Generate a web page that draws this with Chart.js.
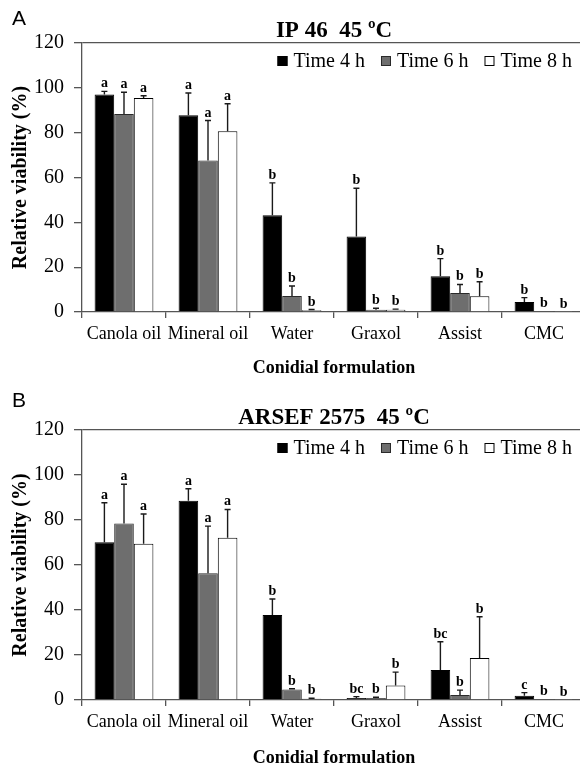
<!DOCTYPE html>
<html><head><meta charset="utf-8">
<script src="https://cdn.jsdelivr.net/npm/chart.js@4.4.1/dist/chart.umd.min.js"></script>
<style>
html,body{margin:0;padding:0;background:#fff;}
#wrap{width:580px;height:769px;overflow:hidden;position:relative;}
canvas{display:block;}
</style></head><body>
<div id="wrap">
<canvas id="cA" width="586" height="385"></canvas>
<canvas id="cB" width="586" height="384"></canvas>
</div>
<script>
// ---- data ----
const categories = ['Canola oil', 'Mineral oil', 'Water', 'Graxol', 'Assist', 'CMC'];
const seriesNames = ['Time 4 h', 'Time 6 h', 'Time 8 h'];
const yTicks = [0, 20, 40, 60, 80, 100, 120];

// Panel A: IP 46 45 ºC
const ipT4 = [97.0, 87.8, 43.2, 33.7, 15.9, 4.5];
const ipT4sd = [1.4, 9.9, 14.4, 21.5, 7.9, 1.9];
const ipT6 = [88.3, 67.6, 7.1, 1.0, 8.5, 0.5];
const ipT6sd = [9.7, 17.8, 4.5, 0.7, 3.8, 0];
const ipT8 = [95.5, 80.6, 0.8, 1.0, 7.0, 0.2];
const ipT8sd = [1.0, 12.3, 0.3, 0.3, 6.5, 0];
const ipT4let = ['a', 'a', 'b', 'b', 'b', 'b'];
const ipT6let = ['a', 'a', 'b', 'b', 'b', 'b'];
const ipT8let = ['a', 'a', 'b', 'b', 'b', 'b'];

// Panel B: ARSEF 2575 45 ºC
const arT4 = [70.1, 88.6, 37.8, 0.9, 13.3, 1.9];
const arT4sd = [17.6, 5.3, 7.1, 0.6, 12.6, 1.4];
const arT6 = [78.4, 56.3, 4.7, 0.9, 2.2, 0.3];
const arT6sd = [17.5, 21.0, 0.3, 0.3, 2.2, 0];
const arT8 = [69.5, 72.1, 0.6, 6.4, 18.7, 0.2];
const arT8sd = [13.2, 12.6, 0.2, 6.0, 18.3, 0];
const arT4let = ['a', 'a', 'b', 'bc', 'bc', 'c'];
const arT6let = ['a', 'a', 'b', 'b', 'b', 'b'];
const arT8let = ['a', 'a', 'b', 'b', 'b', 'b'];

// ---- styling ----
const SERIF = '"Liberation Serif", "Times New Roman", serif';
Chart.defaults.font.family = SERIF;
Chart.defaults.color = '#000';
const fills = ['#000000', '#6e6e6e', '#ffffff'];
const borders = ['#000000', '#2a2a2a', '#000000'];
const AXIS = '#555555';

const errorBarPlugin = {
  id: 'errbars',
  afterDatasetsDraw(chart) {
    const ctx = chart.ctx, ys = chart.scales.y;
    chart.data.datasets.forEach((ds, i) => {
      const meta = chart.getDatasetMeta(i);
      meta.data.forEach((bar, j) => {
        const v = ds.data[j], e = ds.errors[j];
        const top = ys.getPixelForValue(v + e);
        ctx.save();
        ctx.strokeStyle = '#1a1a1a';
        ctx.lineWidth = 1.4;
        if (e > 0) {
          ctx.beginPath();
          ctx.moveTo(bar.x, bar.y);
          ctx.lineTo(bar.x, top);
          ctx.moveTo(bar.x - 3, top);
          ctx.lineTo(bar.x + 3, top);
          ctx.stroke();
        }
        ctx.fillStyle = '#000';
        ctx.font = 'bold 14px ' + SERIF;
        ctx.textAlign = 'center';
        ctx.textBaseline = 'alphabetic';
        ctx.fillText(ds.letters[j], bar.x, top - 4);
        ctx.restore();
      });
    });
  }
};

// legend drawn inside the plot area, right aligned
const insideLegendPlugin = {
  id: 'insideLegend',
  afterDraw(chart, args, opts) {
    const ctx = chart.ctx, area = chart.chartArea;
    ctx.save();
    ctx.font = '20px ' + SERIF;
    const box = 10, gap = 6, itemGap = 16;
    const items = chart.data.datasets.map(ds => ({
      text: ds.label, fill: ds.backgroundColor, stroke: ds.borderColor,
      w: ctx.measureText(ds.label).width
    }));
    let total = items.reduce((s, it) => s + box + gap + it.w, 0) + itemGap * (items.length - 1);
    let x = opts.right - total;
    const cy = area.top + opts.dy;
    items.forEach(it => {
      ctx.fillStyle = it.fill;
      ctx.fillRect(x, cy - box / 2, box, box);
      ctx.strokeStyle = it.stroke;
      ctx.lineWidth = 1;
      ctx.strokeRect(x + 0.5, cy - box / 2 + 0.5, box - 1, box - 1);
      ctx.fillStyle = '#000';
      ctx.textAlign = 'left';
      ctx.textBaseline = 'middle';
      ctx.fillText(it.text, x + box + gap, cy + 1);
      x += box + gap + it.w + itemGap;
    });
    ctx.restore();
  }
};

const panelLabelPlugin = {
  id: 'panelLabel',
  afterDraw(chart, args, opts) {
    const ctx = chart.ctx;
    ctx.save();
    ctx.fillStyle = '#000';
    ctx.font = '21px "Liberation Sans", Arial, sans-serif';
    ctx.textAlign = 'left';
    ctx.textBaseline = 'alphabetic';
    ctx.fillText(opts.text, opts.x, opts.y);
    ctx.restore();
  }
};

function makeChart(id, titleText, letter, letterY, titlePadTop, xHeight, xTitlePadBottom, vals, sds, lets) {
  const datasets = seriesNames.map((name, i) => ({
    label: name,
    data: vals[i],
    errors: sds[i],
    letters: lets[i],
    backgroundColor: fills[i],
    borderColor: borders[i],
    borderWidth: 1,
    barPercentage: 1.0,
    categoryPercentage: 0.7
  }));
  return new Chart(document.getElementById(id), {
    type: 'bar',
    data: { labels: categories, datasets },
    plugins: [errorBarPlugin, insideLegendPlugin, panelLabelPlugin],
    options: {
      responsive: false,
      animation: false,
      devicePixelRatio: 1,
      layout: { padding: 0 },
      plugins: {
        panelLabel: { text: letter, x: 12, y: letterY },
        insideLegend: { right: 572, dy: 18 },
        tooltip: { enabled: false },
        legend: { display: false },
        title: {
          display: true,
          text: titleText,
          fullSize: false,
          color: '#000',
          font: { family: SERIF, size: 23, weight: 'bold', lineHeight: 1 },
          padding: { top: titlePadTop, bottom: 0 }
        }
      },
      scales: {
        x: {
          ticks: { color: '#000', font: { family: SERIF, size: 18 }, padding: 5, maxRotation: 0, autoSkip: false },
          grid: { drawOnChartArea: false, tickLength: 6, tickColor: AXIS, lineWidth: 1.3 },
          border: { color: AXIS, width: 1.3 },
          title: {
            display: true, text: 'Conidial formulation', color: '#000',
            font: { family: SERIF, size: 18, weight: 'bold' },
            padding: { top: 0, bottom: xTitlePadBottom }
          },
          afterFit: s => { s.height = xHeight; }
        },
        y: {
          min: 0, max: 120,
          afterBuildTicks: s => { s.ticks = yTicks.map(v => ({ value: v })); },
          ticks: { color: '#000', font: { family: SERIF, size: 20 }, padding: 10 },
          grid: {
            drawOnChartArea: true,
            color: c => (c.tick && c.tick.value === 120) ? AXIS : 'rgba(0,0,0,0)',
            tickColor: AXIS, tickLength: 8, lineWidth: 1.3
          },
          border: { color: AXIS, width: 1.3 },
          title: {
            display: true, text: 'Relative viability (%)', color: '#000',
            font: { family: SERIF, size: 20, weight: 'bold' },
            padding: { top: 9, bottom: 0 }
          },
          afterFit: s => { s.width = 82; }
        }
      }
    }
  });
}

makeChart('cA', 'IP 46  45 ºC', 'A', 25, 20, 73, 6,
  [ipT4, ipT6, ipT8], [ipT4sd, ipT6sd, ipT8sd], [ipT4let, ipT6let, ipT8let]);
makeChart('cB', 'ARSEF 2575  45 ºC', 'B', 22, 22, 69, 0,
  [arT4, arT6, arT8], [arT4sd, arT6sd, arT8sd], [arT4let, arT6let, arT8let]);
</script>
</body></html>
